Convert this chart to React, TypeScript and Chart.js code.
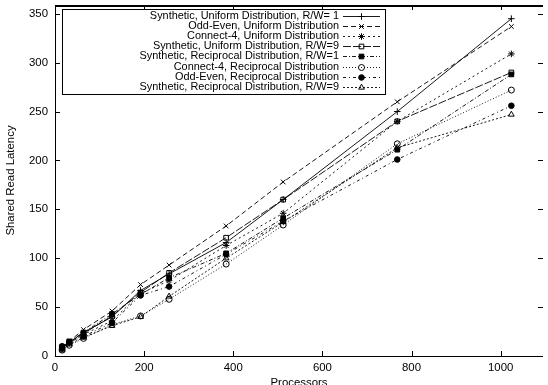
import React, { useEffect, useRef } from "react";
import { Chart, registerables } from "chart.js";
import { drawPoint } from "chart.js/helpers";

Chart.register(...registerables);

const processors = [16, 32, 64, 128, 192, 256, 384, 512, 768, 1024];

const seriesLabels = [
  "Synthetic, Uniform Distribution, R/W= 1",
  "Odd-Even, Uniform Distribution",
  "Connect-4, Uniform Distribution",
  "Synthetic, Uniform Distribution, R/W=9",
  "Synthetic, Reciprocal Distribution, R/W=1",
  "Connect-4, Reciprocal Distribution",
  "Odd-Even, Reciprocal Distribution",
  "Synthetic, Reciprocal Distribution, R/W=9",
];

const synUniRW1 = [8, 14, 24, 40, 67, 84, 116, 160, 250, 345];
const oddEvenUni = [9, 15, 27, 46, 73, 93, 133, 178, 260, 337];
const connect4Uni = [7, 13, 22, 36, 64, 77, 113, 146, 240, 309];
const synUniRW9 = [8, 14, 23, 41, 65, 85, 121, 160, 240, 290];
const synRecRW1 = [9, 15, 24, 43, 63, 80, 105, 141, 211, 288];
const connect4Rec = [6, 11, 18, 32, 41, 58, 94, 134, 217, 272];
const oddEvenRec = [10, 14, 20, 34, 62, 71, 104, 138, 201, 256];
const synRecRW9 = [6, 12, 19, 31, 40, 61, 100, 137, 213, 247];

const seriesValues = [synUniRW1, oddEvenUni, connect4Uni, synUniRW9, synRecRW1, connect4Rec, oddEvenRec, synRecRW9];

const yTicks = [0, 50, 100, 150, 200, 250, 300, 350];
const xTicks = [0, 200, 400, 600, 800, 1000];

const pointStyles = ["cross", "crossRot", "star", "rect", "rect", "circle", "circle", "triangle"];
const filled = [false, false, false, false, true, false, true, false];
const pointSizes = [3.3, 3.3, 3.3, 3.3, 3.3, 3, 2.8, 3.3];
const dashes: number[][] = [[], [5, 3], [2, 3], [8, 2], [4, 2, 1, 2], [1, 2], [3, 3, 1, 3], [2, 2]];

const FONT = "'Liberation Sans', Arial, Helvetica, sans-serif";

const framePlugin = {
  id: "frameTicks",
  afterDatasetsDraw(chart: any) {
    const { ctx, chartArea } = chart;
    const { left, right, top, bottom } = chartArea;
    const xs = chart.scales.x;
    const ys = chart.scales.y;
    ctx.save();
    ctx.strokeStyle = "#000";
    ctx.lineWidth = 1;
    ctx.setLineDash([]);
    ctx.beginPath();
    ctx.moveTo(left + 0.5, top);
    ctx.lineTo(left + 0.5, bottom + 0.5);
    ctx.lineTo(right, bottom + 0.5);
    ctx.stroke();
    ctx.lineWidth = 2;
    ctx.beginPath();
    ctx.moveTo(left, top + 1);
    ctx.lineTo(right, top + 1);
    ctx.stroke();
    ctx.lineWidth = 1;
    ctx.beginPath();
    const tl = 5;
    for (const v of yTicks) {
      const y = Math.round(ys.getPixelForValue(v)) + 0.5;
      ctx.moveTo(left, y);
      ctx.lineTo(left + tl, y);
      ctx.moveTo(right, y);
      ctx.lineTo(right - tl, y);
    }
    for (const v of xTicks) {
      const x = Math.round(xs.getPixelForValue(v)) + 0.5;
      ctx.moveTo(x, bottom);
      ctx.lineTo(x, bottom - tl);
      ctx.moveTo(x, top);
      ctx.lineTo(x, top + tl);
    }
    ctx.stroke();
    ctx.restore();
  },
  afterDraw(chart: any) {
    const { ctx } = chart;
    const boxL = 62, boxT = 9, boxR = 385, boxB = 94;
    ctx.save();
    ctx.fillStyle = "#fff";
    ctx.fillRect(boxL, boxT, boxR - boxL, boxB - boxT);
    ctx.strokeStyle = "#000";
    ctx.lineWidth = 1;
    ctx.setLineDash([]);
    ctx.strokeRect(boxL + 0.5, boxT + 0.5, boxR - boxL, boxB - boxT);
    ctx.font = `10.9px ${FONT}`;
    ctx.textAlign = "right";
    ctx.textBaseline = "middle";
    chart.data.datasets.forEach((ds: any, i: number) => {
      const y = 15.5 + i * 10.2;
      ctx.fillStyle = "#000";
      ctx.fillText(ds.label, 339, y);
      ctx.strokeStyle = "#000";
      ctx.lineWidth = 0.9;
      ctx.setLineDash(ds.borderDash);
      ctx.beginPath();
      ctx.moveTo(343, Math.round(y) + 0.5);
      ctx.lineTo(380, Math.round(y) + 0.5);
      ctx.stroke();
      ctx.setLineDash([]);
      ctx.lineWidth = 1;
      ctx.fillStyle = ds.pointBackgroundColor;
      ctx.strokeStyle = "#000";
      drawPoint(ctx, { pointStyle: ds.pointStyle, radius: ds.pointRadius, borderWidth: 1, rotation: 0 } as any, 361.5, Math.round(y) + 0.5);
    });
    ctx.restore();
  },
};

export default function App() {
  const ref = useRef<HTMLCanvasElement | null>(null);
  useEffect(() => {
    if (!ref.current) return;
    const datasets = seriesLabels.map((label, i) => ({
      label,
      data: processors.map((p, j) => ({ x: p, y: seriesValues[i][j] })),
      borderColor: "#000",
      borderWidth: 0.9,
      borderDash: dashes[i],
      pointStyle: pointStyles[i],
      pointRadius: pointSizes[i],
      pointBorderWidth: 1,
      pointBorderColor: "#000",
      pointBackgroundColor: filled[i] ? "#000" : "rgba(0,0,0,0)",
      backgroundColor: "rgba(0,0,0,0)",
      tension: 0,
      fill: false,
    }));
    const chart = new Chart(ref.current, {
      type: "line",
      data: { datasets },
      plugins: [framePlugin],
      options: {
        animation: false,
        responsive: false,
        devicePixelRatio: 1,
        layout: { padding: { top: 4, right: 0, bottom: 0, left: 0 } },
        plugins: { legend: { display: false }, tooltip: { enabled: false } },
        scales: {
          x: {
            type: "linear",
            min: 0,
            max: 1095,
            afterBuildTicks: (s: any) => {
              s.ticks = xTicks.map((v) => ({ value: v }));
            },
            afterFit: (s: any) => {
              s.height = 29;
              s.paddingLeft = 0;
              s.paddingRight = 0;
            },
            grid: { display: false, drawTicks: false },
            border: { display: false },
            ticks: {
              color: "#000",
              padding: 5,
              font: { family: FONT, size: 11.4 },
              callback: (v: any) => String(v),
            },
            title: {
              display: true,
              text: "Processors",
              color: "#000",
              font: { family: FONT, size: 11.4 },
              padding: { top: 0, bottom: -5 },
            },
          },
          y: {
            type: "linear",
            min: 0,
            max: 359,
            afterBuildTicks: (s: any) => {
              s.ticks = yTicks.map((v) => ({ value: v }));
            },
            afterFit: (s: any) => {
              s.width = 55;
              s.paddingTop = 0;
              s.paddingBottom = 0;
            },
            grid: { display: false, drawTicks: false },
            border: { display: false },
            ticks: {
              color: "#000",
              padding: 7,
              font: { family: FONT, size: 11.4 },
              callback: (v: any) => String(v),
            },
            title: {
              display: true,
              text: "Shared Read Latency",
              color: "#000",
              font: { family: FONT, size: 11.4 },
              padding: { top: 4, bottom: 0 },
            },
          },
        },
      },
    });
    return () => chart.destroy();
  }, []);
  return (
    <div style={{ position: "absolute", left: 0, top: 0, width: 548, height: 385, background: "#fff" }}>
      <canvas ref={ref} width={548} height={385} style={{ display: "block" }} />
    </div>
  );
}
